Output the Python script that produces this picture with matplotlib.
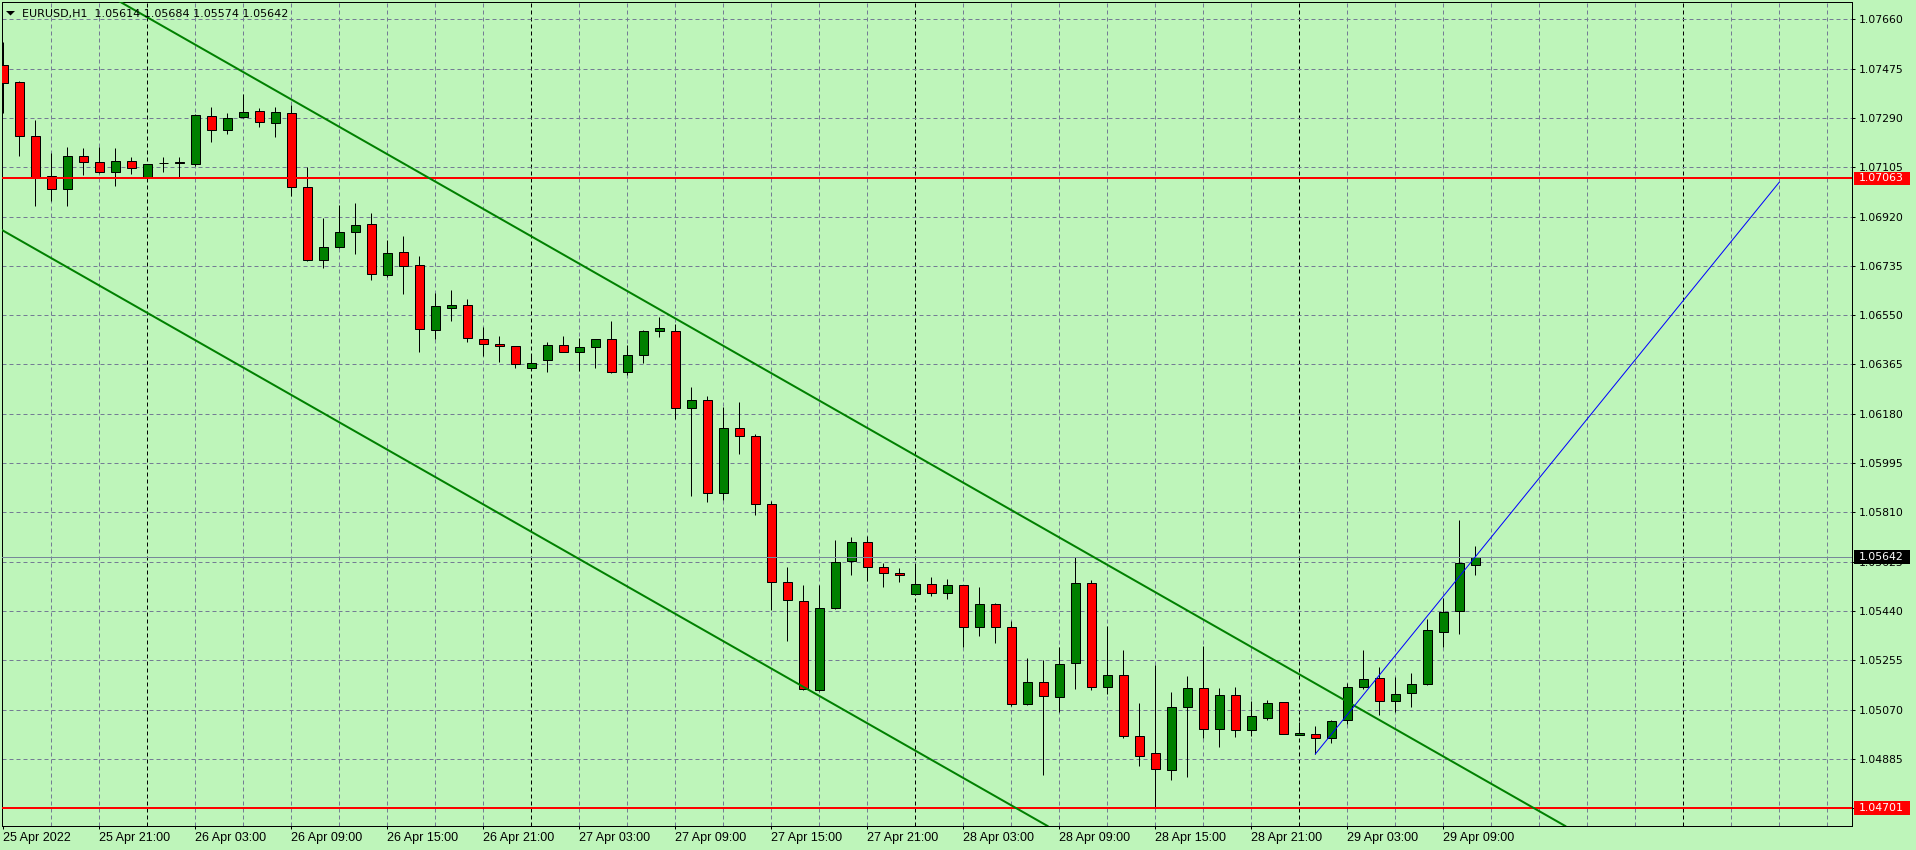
import matplotlib
matplotlib.use("Agg")
import matplotlib.pyplot as plt
from matplotlib.patches import Rectangle, Polygon
from matplotlib.transforms import IdentityTransform

# ─────────────────────────────────────────────────────────────
#  DATA  (EURUSD H1, bar 0 = 25 Apr 2022 15:00)
# ─────────────────────────────────────────────────────────────
symbol = "EURUSD,H1"

opens = [1.07488, 1.07424, 1.07222, 1.07072, 1.07022, 1.07146, 1.07123, 1.07086, 1.07127, 1.07066,
         1.07121, 1.07121, 1.07116, 1.07296, 1.07243, 1.07292, 1.07315, 1.07270, 1.07307, 1.07030,
         1.06756, 1.06804, 1.06861, 1.06891, 1.06699, 1.06786, 1.06737, 1.06493, 1.06578, 1.06587,
         1.06459, 1.06440, 1.06433, 1.06350, 1.06380, 1.06437, 1.06413, 1.06429, 1.06459, 1.06338,
         1.06399, 1.06489, 1.06490, 1.06200, 1.06230, 1.05881, 1.06125, 1.06095, 1.05840, 1.05547,
         1.05476, 1.05142, 1.05450, 1.05626, 1.05697, 1.05604, 1.05581, 1.05502, 1.05540, 1.05506,
         1.05536, 1.05378, 1.05465, 1.05378, 1.05090, 1.05172, 1.05116, 1.05243, 1.05544, 1.05153,
         1.05198, 1.04969, 1.04906, 1.04842, 1.05078, 1.05150, 1.04996, 1.05123, 1.04992, 1.05037,
         1.05097, 1.04973, 1.04977, 1.04962, 1.05029, 1.05153, 1.05187, 1.05101, 1.05131, 1.05165,
         1.05360, 1.05439, 1.05614]
highs = [1.07576, 1.07428, 1.07282, 1.07159, 1.07181, 1.07176, 1.07181, 1.07176, 1.07142, 1.07116,
         1.07142, 1.07142, 1.07306, 1.07332, 1.07307, 1.07380, 1.07326, 1.07332, 1.07338, 1.07105,
         1.06914, 1.06963, 1.06970, 1.06932, 1.06832, 1.06847, 1.06772, 1.06633, 1.06644, 1.06610,
         1.06506, 1.06472, 1.06433, 1.06397, 1.06449, 1.06472, 1.06463, 1.06459, 1.06528, 1.06438,
         1.06493, 1.06543, 1.06517, 1.06280, 1.06245, 1.06206, 1.06224, 1.06103, 1.05852, 1.05605,
         1.05537, 1.05537, 1.05706, 1.05716, 1.05720, 1.05619, 1.05600, 1.05607, 1.05567, 1.05559,
         1.05536, 1.05530, 1.05469, 1.05403, 1.05263, 1.05256, 1.05305, 1.05642, 1.05555, 1.05383,
         1.05293, 1.05094, 1.05238, 1.05136, 1.05196, 1.05309, 1.05151, 1.05154, 1.05103, 1.05106,
         1.05097, 1.05022, 1.05007, 1.05032, 1.05168, 1.05292, 1.05230, 1.05193, 1.05208, 1.05408,
         1.05487, 1.05780, 1.05684]
lows = [1.07307, 1.07148, 1.06959, 1.06978, 1.06959, 1.07077, 1.07083, 1.07034, 1.07081, 1.07065,
        1.07088, 1.07068, 1.07108, 1.07201, 1.07231, 1.07288, 1.07257, 1.07219, 1.06997, 1.06752,
        1.06726, 1.06800, 1.06780, 1.06682, 1.06694, 1.06630, 1.06413, 1.06461, 1.06529, 1.06450,
        1.06397, 1.06374, 1.06353, 1.06344, 1.06338, 1.06412, 1.06341, 1.06353, 1.06334, 1.06326,
        1.06371, 1.06467, 1.06159, 1.05872, 1.05850, 1.05856, 1.06030, 1.05801, 1.05443, 1.05328,
        1.05145, 1.05141, 1.05449, 1.05575, 1.05553, 1.05531, 1.05550, 1.05501, 1.05495, 1.05486,
        1.05306, 1.05347, 1.05321, 1.05083, 1.05086, 1.04824, 1.05061, 1.05148, 1.05144, 1.05128,
        1.04964, 1.04859, 1.04705, 1.04807, 1.04816, 1.04964, 1.04930, 1.04968, 1.04971, 1.05029,
        1.04977, 1.04973, 1.04903, 1.04943, 1.05014, 1.05146, 1.05048, 1.05060, 1.05078, 1.05161,
        1.05306, 1.05354, 1.05574]
closes = [1.07420, 1.07223, 1.07063, 1.07022, 1.07146, 1.07123, 1.07086, 1.07127, 1.07101, 1.07116,
          1.07121, 1.07124, 1.07300, 1.07243, 1.07288, 1.07311, 1.07273, 1.07311, 1.07030, 1.06756,
          1.06804, 1.06861, 1.06887, 1.06703, 1.06782, 1.06736, 1.06497, 1.06583, 1.06587, 1.06463,
          1.06443, 1.06433, 1.06365, 1.06369, 1.06437, 1.06413, 1.06429, 1.06459, 1.06335, 1.06399,
          1.06489, 1.06500, 1.06200, 1.06230, 1.05881, 1.06125, 1.06097, 1.05840, 1.05547, 1.05480,
          1.05146, 1.05450, 1.05622, 1.05697, 1.05604, 1.05581, 1.05574, 1.05540, 1.05506, 1.05536,
          1.05378, 1.05465, 1.05378, 1.05090, 1.05172, 1.05120, 1.05240, 1.05544, 1.05153, 1.05198,
          1.04969, 1.04897, 1.04846, 1.05078, 1.05150, 1.04996, 1.05123, 1.04992, 1.05044, 1.05093,
          1.04977, 1.04981, 1.04962, 1.05026, 1.05153, 1.05183, 1.05101, 1.05127, 1.05165, 1.05367,
          1.05435, 1.05619, 1.05642]

time_labels = ["25 Apr 2022", "25 Apr 21:00", "26 Apr 03:00", "26 Apr 09:00", "26 Apr 15:00",
               "26 Apr 21:00", "27 Apr 03:00", "27 Apr 09:00", "27 Apr 15:00", "27 Apr 21:00",
               "28 Apr 03:00", "28 Apr 09:00", "28 Apr 15:00", "28 Apr 21:00", "29 Apr 03:00",
               "29 Apr 09:00"]
day_breaks = [9, 33, 57, 81, 105]          # bars at 00:00

price_ticks = ["1.04700", "1.04885", "1.05070", "1.05255", "1.05440", "1.05625", "1.05810",
               "1.05995", "1.06180", "1.06365", "1.06550", "1.06735", "1.06920", "1.07105",
               "1.07290", "1.07475", "1.07660"]

levels = [1.07063, 1.04701]                # red horizontal lines
bid = closes[-1]

upper_bars, upper_prices = [7.29, 92.48], [1.07726, 1.04809]
lower_bars, lower_prices = [41.04, 61.67], [1.05462, 1.04756]
blue_bars, blue_prices = [82, 111], [1.04903, 1.07049]

# ─────────────────────────────────────────────────────────────
#  STYLE
# ─────────────────────────────────────────────────────────────
W, H = 1916, 850
PX = 0.72                                  # one pixel in points at dpi 100
BG = "#bef5ba"
GRID = "#747c94"
BULL, BEAR = "#008000", "#ff0000"

plt.rcParams["lines.scale_dashes"] = False
plt.rcParams["font.family"] = ["DejaVu Sans"]
dash = (0, (4 * PX, 3 * PX))

fig = plt.figure(figsize=(W / 100, H / 100), dpi=100, facecolor=BG)
x0, x1, y0, y1 = 1.5, 1852.3, 1.7, 826.0   # plot frame in pixels
ax = fig.add_axes([x0 / W, 1 - y1 / H, (x1 - x0) / W, (y1 - y0) / H], facecolor=BG)
ax.set_xlim(-0.11, 115.56)
ax.set_ylim(1.04633, 1.07726)
px_price = (1.07726 - 1.04633) / (y1 - y0)

# grid + day separators
price_vals = [float(p) for p in price_ticks]
for b in range(3, 115, 3):
    ax.axvline(b, color="black" if b in day_breaks else GRID, lw=PX, ls=dash, zorder=1)
for p in price_vals:
    ax.axhline(p, color=GRID, lw=PX, ls=dash, zorder=1)

# candles
for i, (o, h, l, c) in enumerate(zip(opens, highs, lows, closes)):
    ax.vlines(i, l, h, color="black", lw=PX, zorder=2)
    ax.add_patch(Rectangle((i - 0.29, min(o, c)), 0.58, abs(c - o),
                           fc=BULL if c >= o else BEAR, ec="black", lw=PX, zorder=3))

# objects
ax.axhline(bid, color="#778899", lw=PX, zorder=4)
for lv in levels:
    ax.axhline(lv, color="red", lw=2 * PX, zorder=5)
ax.axline((upper_bars[0], upper_prices[0]), (upper_bars[1], upper_prices[1]), color=BULL, lw=2 * PX, zorder=5)
ax.axline((lower_bars[0], lower_prices[0]), (lower_bars[1], lower_prices[1]), color=BULL, lw=2 * PX, zorder=5)
ax.plot(blue_bars, blue_prices, color="blue", lw=PX, zorder=6)

# axes
for s in ax.spines.values():
    s.set_linewidth(PX)
    s.set_color("black")
ax.yaxis.tick_right()
ax.set_yticks(price_vals, price_ticks)
ax.tick_params(axis="y", direction="out", length=3 * PX, width=PX, pad=2.7, labelsize=7.8)
ax.set_xticks([6 * k for k in range(len(time_labels))], time_labels)
ax.tick_params(axis="x", direction="out", length=3 * PX, width=PX, pad=2.5, labelsize=9)
for t in ax.get_xticklabels():
    t.set_horizontalalignment("left")
    t.set_fontfamily("Liberation Sans")

# price labels on the scale
yx = ax.get_yaxis_transform()
half = 6.7 * px_price
for price, fc in [(levels[0], "red"), (bid, "black"), (levels[1], "red")]:
    ax.add_patch(Rectangle((1.00092, price - half), 0.03026, 2 * half, transform=yx,
                           fc=fc, ec="none", clip_on=False, zorder=10))
    ax.text(1.00362, price, f"{price:.5f}", transform=yx, color="white", fontsize=7.8,
            va="center", ha="left", clip_on=False, zorder=11)

# header
header = f"{symbol}  {opens[-1]:.5f} {highs[-1]:.5f} {lows[-1]:.5f} {closes[-1]:.5f}"
ax.text(0.01091, 0.98108, header, transform=ax.transAxes, fontsize=8, va="baseline", zorder=8)
fig.add_artist(Polygon([[6, H - 11], [15, H - 11], [10.5, H - 15.5]], closed=True,
                       transform=IdentityTransform(), fc="black", ec="none"))

fig.savefig("out.png", dpi=100, facecolor=BG)
